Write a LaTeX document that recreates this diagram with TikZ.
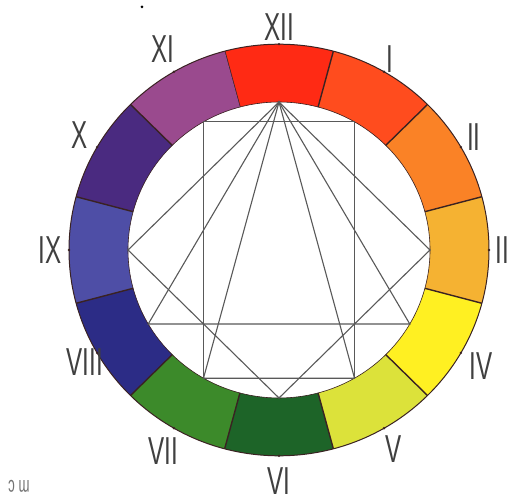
\documentclass[tikz,border=0pt]{standalone}
\usepackage{fontspec}
\setmainfont{Liberation Sans}
\usetikzlibrary{positioning,calc}
\definecolor{cXII}{HTML}{FF2A14}
\definecolor{cI}{HTML}{FF4C1E}
\definecolor{cII}{HTML}{FA8226}
\definecolor{cIII}{HTML}{F5B232}
\definecolor{cIV}{HTML}{FFF022}
\definecolor{cV}{HTML}{DCE23A}
\definecolor{cVI}{HTML}{1D6428}
\definecolor{cVII}{HTML}{3C8A2A}
\definecolor{cVIII}{HTML}{2C2C86}
\definecolor{cIX}{HTML}{4E4EA6}
\definecolor{cX}{HTML}{4A2A80}
\definecolor{cXI}{HTML}{9A4A8E}
\definecolor{rimline}{HTML}{3A2222}

\begin{document}
\begin{tikzpicture}[x=1pt,y=1pt,
   rim/.style={draw=rimline,line width=1pt},
   spoke/.style={draw=rimline,line width=1.4pt},
   chord/.style={draw=black!65,line width=1.1pt},
   numeral/.style={font=\fontsize{39}{39}\selectfont,text=black!75,xscale=0.62,inner sep=0pt},
   tick/.style={circle,fill=rimline,inner sep=0pt,minimum size=2.6pt}]
  \useasboundingbox (-279,-247) rectangle (231,250);
  \fill[white] (-279,-247) rectangle (231,250);
  \begin{scope}[yscale=0.98]
    % colour ring
    \foreach \k/\c in {0/cXII,1/cI,2/cII,3/cIII,4/cIV,5/cV,6/cVI,7/cVII,8/cVIII,9/cIX,10/cX,11/cXI}{
      \pgfmathsetmacro\a{90-30*\k}
      \fill[\c] (\a-15:210) arc[start angle=\a-15,end angle=\a+15,radius=210]
        -- (\a+15:151) arc[start angle=\a+15,end angle=\a-15,radius=151] -- cycle;
      \draw[spoke] (\a+15:151) -- (\a+15:210);
    }
    \draw[rim] (0,0) circle[radius=210];
    \draw[rim,line width=0.6pt] (0,0) circle[radius=151];
    % points on the inner circle
    \foreach \k/\n in {0/XII,1/I,2/II,3/III,4/IV,5/V,6/VI,7/VII,8/VIII,9/IX,10/X,11/XI}{
      \coordinate (h\n) at ({90-30*\k}:151);
      \node[tick] (t\n) at ({90-30*\k}:210) {};
    }
  \end{scope}
  % chords
  \draw[chord] (hXI) -- (hI) -- (hV) -- (hVII) -- cycle;
  \draw[chord] (hXII) -- (hIV) -- (hVIII) -- cycle;
  \draw[chord] (hXII) -- (hV) -- (hVII) -- cycle;
  \draw[chord] (hXII) -- (hIII) -- (hVI) -- (hIX) -- cycle;
  % numerals
  \foreach \k/\n/\r in {0/XII/223,1/I/221,2/II/225,3/III/227,4/IV/233,5/V/230,6/VI/231,7/VII/232,8/VIII/224,9/IX/229,10/X/230,11/XI/232}{
    \node[numeral] (l\n) at ({90-30*\k}:\r) {\n};
  }
  \node[circle,fill=black,inner sep=0pt,minimum size=3pt] (dot) at (-137,243) {};
  \node[font=\fontsize{22}{22}\selectfont,text=black!55,xscale=0.6,rotate=180,inner sep=0pt] (mark) at (-260,-236) {m c};
\end{tikzpicture}
\end{document}
